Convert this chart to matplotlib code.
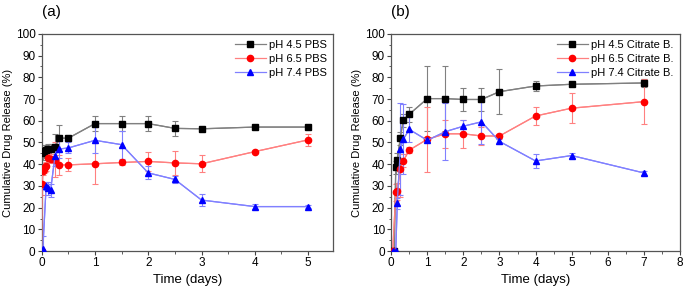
import numpy as np
import matplotlib.pyplot as plt
from matplotlib.ticker import MultipleLocator

plt.rcParams['font.family'] = ['Liberation Sans', 'DejaVu Sans']

# panel (a): PBS
a_t_45 = [0.021, 0.042, 0.083, 0.125, 0.167, 0.25, 0.333, 0.5, 1, 1.5, 2, 2.5, 3, 4, 5]
a_y_45 = [45, 46, 46.5, 47, 47, 48, 52, 52, 58.7, 58.7, 58.7, 56.5, 56.3, 57.1, 57.1]
a_e_45 = [3, 3, 2.5, 2.5, 2.5, 6, 6, 1, 3.5, 3.5, 3.5, 3.5, 0.7, 0.5, 1]

a_t_65 = [0, 0.01, 0.021, 0.042, 0.063, 0.083, 0.125, 0.167, 0.25, 0.333, 0.5, 1, 1.5, 2, 2.5, 3, 4, 5]
a_y_65 = [0, 31, 37, 38, 38.5, 39, 43, 42.5, 42, 39.7, 39.7, 40.2, 40.8, 41.3, 40.6, 40.2, 45.8, 51.2]
a_e_65 = [0, 5, 2, 2, 2, 2, 2, 2, 8, 4.5, 3, 9.5, 1, 4.5, 5.5, 4, 0.7, 2.7]

a_t_74 = [0.021, 0.083, 0.125, 0.167, 0.25, 0.333, 0.5, 1, 1.5, 2, 2.5, 3, 4, 5]
a_y_74 = [1, 30, 29, 28, 44, 47, 47.5, 51, 49, 36, 33, 23.5, 20.5, 20.5]
a_e_74 = [6, 2, 3, 3, 5, 4, 2.5, 6, 6.5, 3, 1.5, 2.8, 1, 0.7]

# panel (b): citrate buffer
b_t_45 = [0.042, 0.083, 0.125, 0.167, 0.25, 0.333, 0.5, 1, 1.5, 2, 2.5, 3, 4, 5, 7]
b_y_45 = [0, 0, 38.5, 42, 52, 60.3, 63, 70.2, 70.2, 69.8, 69.8, 73.4, 76, 76.8, 77.4]
b_e_45 = [0, 0, 3, 3, 3, 3, 3.5, 15, 15, 5.5, 5.5, 10.5, 2.5, 0.5, 2]

b_t_65 = [0.042, 0.125, 0.167, 0.25, 0.333, 0.5, 1, 1.5, 2, 2.5, 3, 4, 5, 7]
b_y_65 = [0, 27, 27.5, 38, 41.5, 46.5, 51.5, 54, 54, 53, 53, 62.2, 65.8, 68.8]
b_e_65 = [0, 4, 4, 13, 3, 1.5, 15, 6.5, 6.5, 4, 1, 4.3, 6.8, 10.5]

b_t_74 = [0.042, 0.125, 0.167, 0.25, 0.333, 0.5, 1, 1.5, 2, 2.5, 3, 4, 5, 7]
b_y_74 = [0, 0, 22, 47, 51.5, 56, 51, 55, 57.5, 59.5, 50.5, 41.5, 44, 36]
b_e_74 = [0, 0, 2.5, 21, 16, 6, 1, 13, 3, 10, 1, 3.3, 1, 1]

labels_a = ['pH 4.5 PBS', 'pH 6.5 PBS', 'pH 7.4 PBS']
labels_b = ['pH 4.5 Citrate B.', 'pH 6.5 Citrate B.', 'pH 7.4 Citrate B.']

colors = ['black', 'red', 'blue']
line_colors = ['#808080', '#ff8080', '#8080ff']
markers = ['s', 'o', '^']
FS = 8


def draw_panel(ax, series, labels, xmax, tag):
    for (t, y, e), lab, c, lc, m in zip(series, labels, colors, line_colors, markers):
        ax.errorbar(t, y, yerr=e, color=lc, ecolor=lc, elinewidth=0.8,
                    capsize=2, capthick=0.8, linewidth=0.9, zorder=2)
        ax.plot(t, y, color=lc, linewidth=0.9, marker=m, markersize=4.5,
                markerfacecolor=c, markeredgecolor=c, label=lab, zorder=3)
    ax.set_xlim(0, xmax)
    ax.set_ylim(0, 100)
    ax.xaxis.set_major_locator(MultipleLocator(1))
    ax.xaxis.set_minor_locator(MultipleLocator(0.5))
    ax.yaxis.set_major_locator(MultipleLocator(10))
    ax.yaxis.set_minor_locator(MultipleLocator(5))
    ax.tick_params(which='both', direction='out', labelsize=FS + 0.5, color='#444444', pad=1.5)
    ax.tick_params(which='major', length=3)
    ax.tick_params(which='minor', length=1.8)
    for s in ax.spines.values():
        s.set_color('#555555')
        s.set_linewidth(0.9)
    ax.set_xlabel('Time (days)', fontsize=9.5, labelpad=3)
    ax.set_ylabel('Cumulative Drug Release (%)', fontsize=FS, labelpad=2)
    ax.legend(loc='upper right', frameon=False, fontsize=FS, handlelength=2.8,
              labelspacing=0.35, borderaxespad=0.15, handletextpad=0.3)
    ax.text(0.0, 1.08, tag, transform=ax.transAxes, fontsize=11)


fig = plt.figure(figsize=(6.84, 2.87), dpi=100)
ax1 = fig.add_axes([0.061, 0.125, 0.426, 0.757])
ax2 = fig.add_axes([0.572, 0.125, 0.422, 0.757])

draw_panel(ax1, [(a_t_45, a_y_45, a_e_45), (a_t_65, a_y_65, a_e_65), (a_t_74, a_y_74, a_e_74)],
           labels_a, 5.47, '(a)')
draw_panel(ax2, [(b_t_45, b_y_45, b_e_45), (b_t_65, b_y_65, b_e_65), (b_t_74, b_y_74, b_e_74)],
           labels_b, 8, '(b)')

fig.savefig('out.png', dpi=100)
